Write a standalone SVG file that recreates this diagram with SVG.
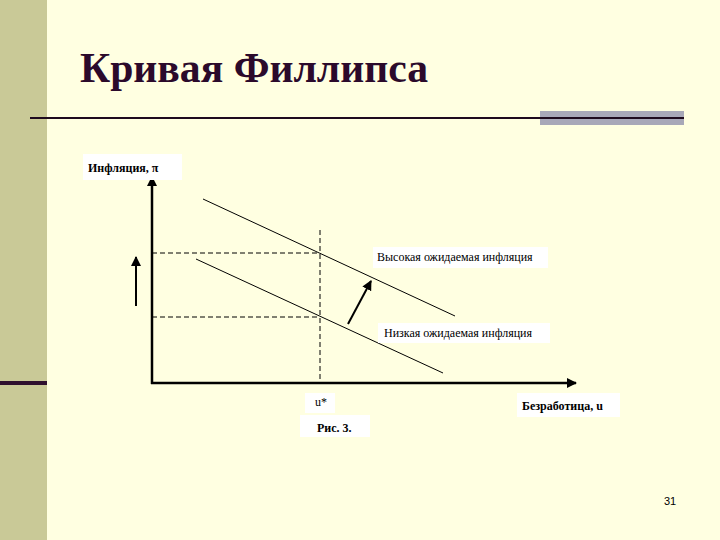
<svg xmlns="http://www.w3.org/2000/svg" width="720" height="540" viewBox="0 0 720 540">
<defs>
<style>
.lbl{font-family:"Times New Roman",Tinos,"Liberation Serif","Noto Serif","DejaVu Serif",FreeSerif,serif;font-size:12px;fill:#000}
.title{font-family:"Times New Roman",Tinos,"Liberation Serif","Noto Serif","DejaVu Serif",FreeSerif,serif;font-weight:bold;font-size:42px;fill:#2b0a2b}
.b{font-weight:bold}
.box{fill:#ffffff}
.ax{stroke:#000;stroke-width:2.5;fill:none}
.dash{stroke:#000;stroke-width:1;stroke-dasharray:5,3;fill:none}
.ln{stroke:#000;stroke-width:1;fill:none}
</style>
<marker id="ah" viewBox="0 0 10 10" refX="9" refY="5" markerWidth="4" markerHeight="4" orient="auto" markerUnits="strokeWidth">
<path d="M0,0 L10,5 L0,10 z" fill="#000"/>
</marker>
<marker id="ah2" viewBox="0 0 10 10" refX="9" refY="5" markerWidth="5" markerHeight="5" orient="auto" markerUnits="strokeWidth">
<path d="M0,0 L10,5 L0,10 z" fill="#000"/>
</marker>
</defs>
<rect width="720" height="540" fill="#ffffe1"/>
<rect x="0" y="0" width="47" height="540" fill="#c9c997"/>
<rect x="0" y="381" width="47" height="4" fill="#2e0f2e"/>
<text class="title" x="80" y="82" textLength="348" lengthAdjust="spacingAndGlyphs">Кривая Филлипса</text>
<rect x="540" y="111" width="144" height="14" fill="#a8a8b8"/>
<line x1="30" y1="118" x2="684" y2="118" stroke="#1e0a1e" stroke-width="2"/>
<g id="connectors">
<line class="ax" x1="152" y1="384" x2="152" y2="177" marker-end="url(#ah)"/>
<line class="ax" x1="151" y1="383" x2="576" y2="383" marker-end="url(#ah)"/>
<line class="dash" x1="152" y1="253" x2="320" y2="253"/>
<line class="dash" x1="152" y1="317" x2="320" y2="317"/>
<line class="dash" x1="320" y1="230" x2="320" y2="383"/>
<line class="ln" x1="203" y1="199" x2="455" y2="316"/>
<line class="ln" x1="196" y1="259" x2="443" y2="373"/>
<line stroke="#000" stroke-width="2" x1="136" y1="306" x2="136" y2="257" marker-end="url(#ah2)"/>
<line stroke="#000" stroke-width="2" x1="348" y1="324" x2="371" y2="281" marker-end="url(#ah2)"/>
</g>
<g id="ylabel">
<rect class="box" x="83" y="154" width="99" height="26"/>
<text class="lbl b" x="88" y="172">Инфляция, π</text>
</g>
<g id="high">
<rect class="box" x="373" y="247" width="175" height="21"/>
<text class="lbl" x="377" y="261">Высокая ожидаемая инфляция</text>
</g>
<g id="low">
<rect class="box" x="378" y="323" width="172" height="20"/>
<text class="lbl" x="384" y="337">Низкая ожидаемая инфляция</text>
</g>
<g id="ustar">
<rect class="box" x="305" y="393" width="30" height="20"/>
<text class="lbl" x="315" y="406">u*</text>
</g>
<g id="fig">
<rect class="box" x="300" y="415" width="70" height="22"/>
<text class="lbl b" x="317" y="432">Рис. 3.</text>
</g>
<g id="xlabel">
<rect class="box" x="517" y="393" width="103" height="24"/>
<text class="lbl b" x="522" y="410">Безработица, u</text>
</g>
<text x="664" y="505" font-family="Liberation Sans,Arial,sans-serif" font-size="11" fill="#000">31</text>
</svg>
